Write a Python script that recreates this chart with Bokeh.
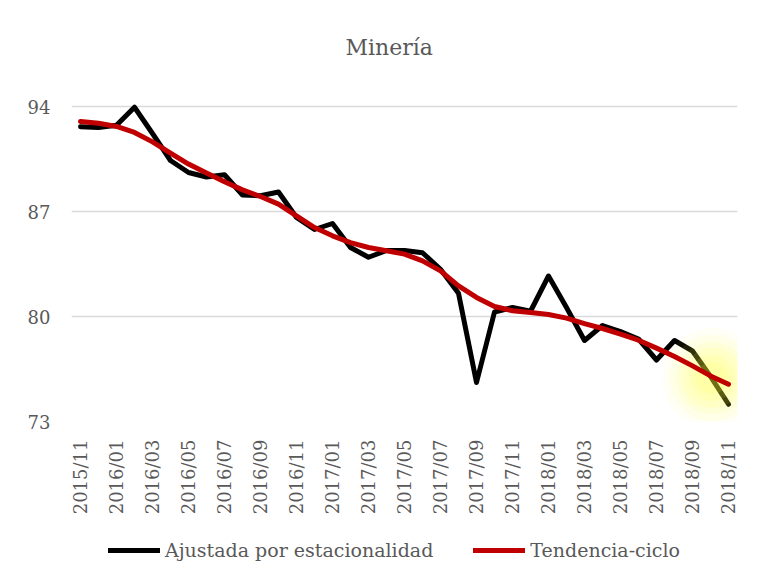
from bokeh.plotting import figure
from bokeh.layouts import column
from bokeh.models import FixedTicker, Legend, LegendItem, Title, Range1d, ColumnDataSource
from bokeh.embed import file_html
from bokeh.resources import INLINE
import math

months = ["2015/11", "2015/12",
          "2016/01", "2016/02", "2016/03", "2016/04", "2016/05", "2016/06",
          "2016/07", "2016/08", "2016/09", "2016/10", "2016/11", "2016/12",
          "2017/01", "2017/02", "2017/03", "2017/04", "2017/05", "2017/06",
          "2017/07", "2017/08", "2017/09", "2017/10", "2017/11", "2017/12",
          "2018/01", "2018/02", "2018/03", "2018/04", "2018/05", "2018/06",
          "2018/07", "2018/08", "2018/09", "2018/10", "2018/11"]

ajustada = [92.65, 92.6, 92.75, 93.95, 92.2, 90.4, 89.6, 89.3, 89.45, 88.1,
            88.05, 88.3, 86.6, 85.8, 86.2, 84.6, 83.95, 84.4, 84.4, 84.25,
            83.15, 81.55, 75.6, 80.3, 80.6, 80.35, 82.7, 80.6, 78.4, 79.4,
            79.0, 78.5, 77.1, 78.4, 77.7, 76.0, 74.15]

tendencia = [93.0, 92.88, 92.67, 92.27, 91.64, 90.89, 90.16, 89.56, 88.98, 88.44,
             88.0, 87.49, 86.71, 85.93, 85.38, 84.93, 84.6, 84.38, 84.16, 83.71,
             83.04, 82.04, 81.27, 80.67, 80.38, 80.27, 80.13, 79.89, 79.53, 79.2,
             78.82, 78.42, 77.89, 77.33, 76.71, 76.04, 75.49]

y_ticks = [73, 80, 87, 94]
title_text = "Minería"
series_names = ["Ajustada por estacionalidad", "Tendencia-ciclo"]

FONT = "DejaVu Serif"
GREY = "#595959"
BLACK = "black"
RED = "#c00000"

x = list(range(len(months)))
src = ColumnDataSource(dict(x=x, a=ajustada, t=tendencia))

p = figure(frame_width=666, frame_height=330, output_backend="svg", toolbar_location=None,
           x_range=Range1d(-0.5, len(months) - 0.5), y_range=Range1d(73, 95),
           min_border_left=71, min_border_right=31, min_border_top=89,
           min_border_bottom=100)
p.outline_line_color = None
p.background_fill_color = "white"
p.border_fill_color = "white"

# axes
p.yaxis.ticker = FixedTicker(ticks=y_ticks)
p.xaxis.ticker = FixedTicker(ticks=x[::2])
p.xaxis.major_label_overrides = {i: months[i] for i in x}
p.xaxis.major_label_orientation = math.pi / 2
for ax in (p.xaxis[0], p.yaxis[0]):
    ax.axis_line_color = None
    ax.major_tick_line_color = None
    ax.minor_tick_line_color = None
    ax.major_label_text_font = FONT
    ax.major_label_text_font_size = "18px"
    ax.major_label_text_color = GREY
p.yaxis.major_label_standoff = 15
p.xaxis.major_label_standoff = 12

p.xgrid.grid_line_color = None
p.ygrid.grid_line_color = "#d9d9d9"
p.ygrid.grid_line_width = 1.6

p.line("x", "a", source=src, line_color=BLACK, line_width=5,
       line_join="round", line_cap="round")

# glow around the last segment
gx = x[-2] + 0.1
gy = ajustada[-2] - 0.1
for s, al in [(100, 0.05), (86, 0.07), (72, 0.09), (60, 0.10), (46, 0.11), (32, 0.12)]:
    p.scatter([gx], [gy], size=s, fill_color="#ffff33", fill_alpha=al,
              line_color=None)

p.line("x", "t", source=src, line_color=RED, line_width=5,
       line_join="round", line_cap="round")

# title
title = Title(text=title_text, align="left", offset=274, standoff=64,
              text_font=FONT, text_font_size="22px", text_font_style="normal",
              text_color=GREY)
p.add_layout(title, "above")

# legend strip below the chart (its frame is aligned with the chart's frame)
leg = figure(width=768, height=58, output_backend="svg", toolbar_location=None,
             x_axis_type=None, y_axis_type=None,
             x_range=Range1d(-0.5, len(months) - 0.5), y_range=Range1d(0, 1),
             min_border_left=0, min_border_right=0, min_border_top=0,
             min_border_bottom=0)
leg.outline_line_color = None
leg.xgrid.visible = False
leg.ygrid.visible = False
# same series, out of this strip's visible range: only their legend glyphs show
lr1 = leg.line(x, ajustada, line_color=BLACK, line_width=5, line_cap="round")
lr2 = leg.line(x, tendencia, line_color=RED, line_width=5, line_cap="round")
legend = Legend(items=[LegendItem(label=series_names[0], renderers=[lr1]),
                       LegendItem(label=series_names[1], renderers=[lr2])],
                orientation="horizontal", location=(37, 18),
                border_line_alpha=0, background_fill_alpha=0,
                glyph_width=52, glyph_height=18, label_standoff=5,
                spacing=40, padding=0, margin=0,
                label_text_font=FONT, label_text_font_size="19px",
                label_text_color=GREY)
leg.add_layout(legend)

layout = column(p, leg, spacing=0)
open("out.html", "w").write(file_html(layout, INLINE))
